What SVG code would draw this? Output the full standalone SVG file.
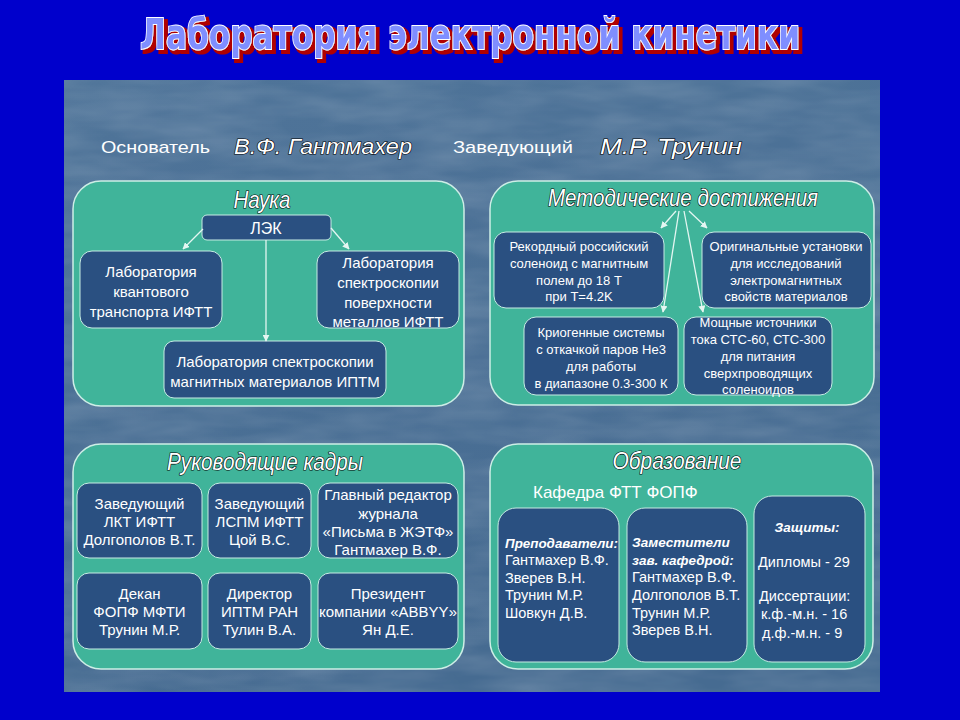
<svg xmlns="http://www.w3.org/2000/svg" width="960" height="720" viewBox="0 0 960 720">
<defs>
<marker id="ah" viewBox="0 0 10 10" refX="9" refY="5" markerWidth="7" markerHeight="7" orient="auto-start-reverse" markerUnits="userSpaceOnUse">
<path d="M0,0 L10,5 L0,10 z" fill="#e4f6f2"/>
</marker>
<linearGradient id="bg" x1="0" y1="0" x2="0.3" y2="1">
<stop offset="0" stop-color="#4f7499"/>
<stop offset="1" stop-color="#466b91"/>
</linearGradient>
<filter id="tex" x="0" y="0" width="1" height="1">
<feTurbulence type="fractalNoise" baseFrequency="0.012 0.05" numOctaves="3" seed="4" result="n"/>
<feColorMatrix in="n" type="matrix" values="0 0 0 0 1  0 0 0 0 1  0 0 0 0 1  0 0 0 0.22 -0.06" result="w"/>
<feComposite in="w" in2="SourceGraphic" operator="in"/>
</filter>
<filter id="redshadow" x="-5%" y="-20%" width="110%" height="150%">
<feMorphology in="SourceAlpha" operator="dilate" radius="1" result="d"/>
<feOffset in="d" dx="3" dy="3" result="o"/>
<feFlood flood-color="#b00000"/>
<feComposite in2="o" operator="in" result="s"/>
<feMerge><feMergeNode in="s"/><feMergeNode in="SourceGraphic"/></feMerge>
</filter>
</defs>
<style>
.panel{fill:#40b49a;stroke:#cdeee6;stroke-width:1.5}
.box{fill:#2a5081;stroke:#c6ece4;stroke-width:1}
.t{fill:#ffffff;font-family:"Liberation Sans","DejaVu Sans",sans-serif;text-anchor:middle}
.l{fill:#ffffff;font-family:"Liberation Sans","DejaVu Sans",sans-serif}
.s15{font-size:15px}
.s13{font-size:13px}
.s14{font-size:14.5px}
.bi{font-weight:bold;font-style:italic}
.ttl{fill:#ffffff;stroke:#000000;stroke-width:1.2;paint-order:stroke;font-family:"Liberation Sans","DejaVu Sans",sans-serif;font-style:italic;text-anchor:middle}
.hdr{fill:#ffffff;font-family:"Liberation Sans","DejaVu Sans",sans-serif;font-size:17px}
.conn{stroke:#e4f6f2;stroke-width:1.3;fill:none;marker-end:url(#ah)}
</style>

<rect x="0" y="0" width="960" height="720" fill="#0000cc"/>
<rect x="64" y="80" width="816" height="612" fill="url(#bg)"/>
<rect x="64" y="80" width="816" height="612" fill="#4b7197" filter="url(#tex)"/>

<g id="title">
<text x="470" y="49" filter="url(#redshadow)" font-family="'DejaVu Sans Condensed','DejaVu Sans',sans-serif" font-weight="bold" font-size="42" text-anchor="middle" textLength="660" lengthAdjust="spacingAndGlyphs" fill="#7f8eff" stroke="#ffffff" stroke-width="1.8" paint-order="stroke">Лаборатория электронной кинетики</text>
</g>

<g id="header">
<text class="hdr" x="101" y="153" textLength="109" lengthAdjust="spacingAndGlyphs">Основатель</text>
<text class="ttl" x="323" y="154" font-size="22" textLength="178" lengthAdjust="spacingAndGlyphs">В.Ф. Гантмахер</text>
<text class="hdr" x="453" y="153" textLength="120" lengthAdjust="spacingAndGlyphs">Заведующий</text>
<text class="ttl" x="671" y="154" font-size="22" textLength="142" lengthAdjust="spacingAndGlyphs">М.Р. Трунин</text>
</g>

<g id="nauka">
<rect class="panel" x="73" y="181" width="391" height="225" rx="28"/>
<text class="ttl" x="262" y="208" font-size="24" textLength="57" lengthAdjust="spacingAndGlyphs">Наука</text>
</g>
<g id="lek">
<rect class="box" x="202" y="215" width="129" height="25" rx="5"/>
<text class="t" x="266" y="234" font-size="16">ЛЭК</text>
</g>
<g id="lab-kvant">
<rect class="box" x="80" y="251" width="142" height="77" rx="12"/>
<text class="t s15" x="151" y="277">Лаборатория</text>
<text class="t s15" x="151" y="297">квантового</text>
<text class="t s15" x="151" y="317">транспорта ИФТТ</text>
</g>
<g id="lab-spektr-pov">
<rect class="box" x="317" y="251" width="142" height="77" rx="12"/>
<text class="t s15" x="388" y="268">Лаборатория</text>
<text class="t s15" x="388" y="288">спектроскопии</text>
<text class="t s15" x="388" y="308">поверхности</text>
<text class="t s15" x="388" y="327">металлов ИФТТ</text>
</g>
<g id="lab-spektr-magn">
<rect class="box" x="164" y="341" width="222" height="57" rx="10"/>
<text class="t s15" x="275" y="367">Лаборатория спектроскопии</text>
<text class="t s15" x="275" y="387">магнитных материалов ИПТМ</text>
</g>

<g id="metod">
<rect class="panel" x="490" y="181" width="384" height="224" rx="28"/>
<text class="ttl" x="683" y="206" font-size="24" textLength="270" lengthAdjust="spacingAndGlyphs">Методические достижения</text>
</g>
<g id="rekord">
<rect class="box" x="494" y="232" width="170" height="76" rx="12"/>
<text class="t s13" x="579" y="251">Рекордный российский</text>
<text class="t s13" x="579" y="268">соленоид с магнитным</text>
<text class="t s13" x="579" y="285">полем до 18 Т</text>
<text class="t s13" x="579" y="301">при T=4.2K</text>
</g>
<g id="original">
<rect class="box" x="702" y="232" width="169" height="76" rx="12"/>
<text class="t s13" x="786" y="251">Оригинальные установки</text>
<text class="t s13" x="786" y="268">для  исследований</text>
<text class="t s13" x="786" y="285">электромагнитных</text>
<text class="t s13" x="786" y="301">свойств материалов</text>
</g>
<g id="kriogen">
<rect class="box" x="524" y="317" width="154" height="78" rx="12"/>
<text class="t s13" x="601" y="337">Криогенные системы</text>
<text class="t s13" x="601" y="354">с откачкой паров He3</text>
<text class="t s13" x="601" y="371">для работы</text>
<text class="t s13" x="601" y="388">в диапазоне 0.3-300 К</text>
</g>
<g id="moshch">
<rect class="box" x="684" y="317" width="148" height="78" rx="12"/>
<text class="t s13" x="758" y="327">Мощные источники</text>
<text class="t s13" x="758" y="344">тока СТС-60, СТС-300</text>
<text class="t s13" x="758" y="361">для питания</text>
<text class="t s13" x="758" y="378">сверхпроводящих</text>
<text class="t s13" x="758" y="394">соленоидов</text>
</g>

<g id="kadry">
<rect class="panel" x="73" y="444" width="391" height="225" rx="28"/>
<text class="ttl" x="265" y="470" font-size="23" textLength="196" lengthAdjust="spacingAndGlyphs">Руководящие кадры</text>
</g>
<g id="k1">
<rect class="box" x="77" y="483" width="125" height="75" rx="12"/>
<text class="t s15" x="139.5" y="508.5">Заведующий</text>
<text class="t s15" x="139.5" y="527">ЛКТ ИФТТ</text>
<text class="t s15" x="139.5" y="545">Долгополов В.Т.</text>
</g>
<g id="k2">
<rect class="box" x="208" y="483" width="103" height="75" rx="12"/>
<text class="t s15" x="259.5" y="508.5">Заведующий</text>
<text class="t s15" x="259.5" y="527">ЛСПМ ИФТТ</text>
<text class="t s15" x="259.5" y="545">Цой В.С.</text>
</g>
<g id="k3">
<rect class="box" x="318" y="483" width="140" height="75" rx="12"/>
<text class="t s15" x="388" y="500">Главный редактор</text>
<text class="t s15" x="388" y="518.5">журнала</text>
<text class="t s15" x="388" y="537">«Письма в ЖЭТФ»</text>
<text class="t s15" x="388" y="555">Гантмахер В.Ф.</text>
</g>
<g id="k4">
<rect class="box" x="77" y="573" width="125" height="76" rx="12"/>
<text class="t s15" x="139.5" y="598.5">Декан</text>
<text class="t s15" x="139.5" y="617">ФОПФ МФТИ</text>
<text class="t s15" x="139.5" y="635">Трунин М.Р.</text>
</g>
<g id="k5">
<rect class="box" x="208" y="573" width="103" height="76" rx="12"/>
<text class="t s15" x="259.5" y="598.5">Директор</text>
<text class="t s15" x="259.5" y="617">ИПТМ РАН</text>
<text class="t s15" x="259.5" y="635">Тулин В.А.</text>
</g>
<g id="k6">
<rect class="box" x="318" y="573" width="140" height="76" rx="12"/>
<text class="t s15" x="388" y="598.5">Президент</text>
<text class="t s15" x="388" y="617" textLength="138" lengthAdjust="spacingAndGlyphs">компании «ABBYY»</text>
<text class="t s15" x="388" y="635">Ян Д.Е.</text>
</g>

<g id="obraz">
<rect class="panel" x="490" y="444" width="383" height="225" rx="28"/>
<text class="ttl" x="677" y="469" font-size="23" textLength="129" lengthAdjust="spacingAndGlyphs">Образование</text>
<text class="l" x="533" y="498" font-size="17">Кафедра ФТТ ФОПФ</text>
</g>
<g id="prepod">
<rect class="box" x="498" y="508" width="121" height="154" rx="18"/>
<text class="l bi" x="505" y="548" font-size="13.5" textLength="113" lengthAdjust="spacingAndGlyphs">Преподаватели:</text>
<text class="l s14" x="505" y="565">Гантмахер В.Ф.</text>
<text class="l s14" x="505" y="582.5">Зверев В.Н.</text>
<text class="l s14" x="505" y="600">Трунин М.Р.</text>
<text class="l s14" x="505" y="618">Шовкун Д.В.</text>
</g>
<g id="zam">
<rect class="box" x="627" y="508" width="120" height="154" rx="18"/>
<text class="l bi" x="632" y="547" font-size="13.5">Заместители</text>
<text class="l bi" x="632" y="565" font-size="13.5">зав. кафедрой:</text>
<text class="l s14" x="632" y="582">Гантмахер В.Ф.</text>
<text class="l s14" x="632" y="600">Долгополов В.Т.</text>
<text class="l s14" x="632" y="618">Трунин М.Р.</text>
<text class="l s14" x="632" y="635">Зверев В.Н.</text>
</g>
<g id="zashchity">
<rect class="box" x="754" y="496" width="111" height="166" rx="18"/>
<text class="t bi" x="807" y="532" font-size="13.5">Защиты:</text>
<text class="l s14" x="758" y="567">Дипломы - 29</text>
<text class="l s14" x="759" y="601">Диссертации:</text>
<text class="l s14" x="761" y="619">к.ф.-м.н. - 16</text>
<text class="l s14" x="762" y="638">д.ф.-м.н. - 9</text>
</g>

<g id="connectors">
<line class="conn" x1="203" y1="229" x2="183" y2="249"/>
<line class="conn" x1="331" y1="228" x2="349" y2="249"/>
<line class="conn" x1="266" y1="240" x2="266" y2="341"/>
<line class="conn" x1="676" y1="211" x2="661" y2="228"/>
<line class="conn" x1="679" y1="211" x2="663" y2="312"/>
<line class="conn" x1="684" y1="211" x2="703" y2="312"/>
<line class="conn" x1="689" y1="211" x2="707" y2="228"/>
</g>
</svg>
